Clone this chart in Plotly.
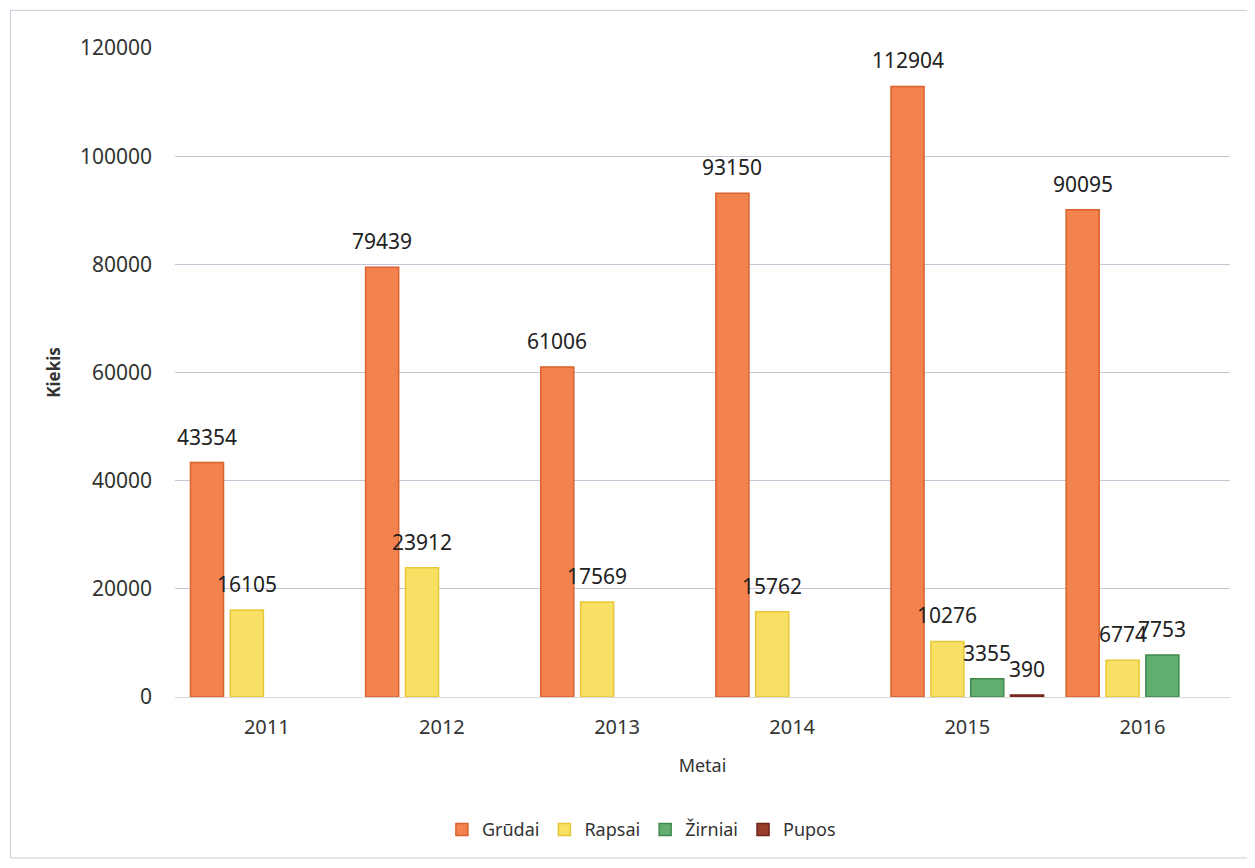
import plotly.graph_objects as go

years = ["2011", "2012", "2013", "2014", "2015", "2016"]
grudai = [43354, 79439, 61006, 93150, 112904, 90095]
rapsai = [16105, 23912, 17569, 15762, 10276, 6774]
zirniai = [None, None, None, None, 3355, 7753]
pupos = [None, None, None, None, 390, None]

series = [
    ("Grūdai", grudai, "#F2834F", "#D9622E"),
    ("Rapsai", rapsai, "#F7E063", "#E8C83A"),
    ("Žirniai", zirniai, "#62AE6E", "#3F8A4C"),
    ("Pupos", pupos, "#9A3D2C", "#6E2418"),
]

BARGAP = 0.09
FONT = "Noto Sans, Liberation Sans, sans-serif"

fig = go.Figure()
annotations = []
n = len(series)
for j, (name, vals, col, line) in enumerate(series):
    fig.add_trace(go.Bar(
        x=years, y=vals, name=name,
        marker=dict(color=col, line=dict(color=line, width=1.5)),
        cliponaxis=False,
    ))
    off = (j - (n - 1) / 2) * (1 - BARGAP) / n
    for i, v in enumerate(vals):
        if v is None:
            continue
        annotations.append(dict(
            x=i + off, y=v, xref="x", yref="y", text=str(v), showarrow=False,
            yanchor="bottom", yshift=10, font=dict(size=21, color="#222", family=FONT),
        ))

fig.update_layout(
    width=1255, height=868,
    barmode="group", bargap=BARGAP, bargroupgap=0.17,
    paper_bgcolor="white", plot_bgcolor="white",
    font=dict(family=FONT, color="#333", size=17),
    margin=dict(l=167, r=33, t=40, b=179, autoexpand=False),
    legend=dict(orientation="h", x=0.253, xanchor="left", y=-0.176, yanchor="top",
                font=dict(size=18), itemwidth=30, traceorder="normal",
                bgcolor="rgba(0,0,0,0)"),
    xaxis=dict(title=dict(text="Metai", font=dict(size=18), standoff=20),
               showgrid=False, showline=True, linecolor="#d8d8d8",
               tickfont=dict(size=20), ticks="", ticklabelstandoff=12),
    yaxis=dict(title=dict(text="<b>Kiekis</b>", font=dict(size=17), standoff=14),
               range=[0, 120000], dtick=20000, showgrid=True, gridcolor="#c8c4d6",
               gridwidth=1, zeroline=False, tickfont=dict(size=21), tickformat="d",
               ticklabelstandoff=22),
    annotations=annotations,
    shapes=[dict(type="rect", xref="paper", yref="paper", x0=-0.156, x1=1.019, y0=-0.248, y1=1.058,
                 line=dict(color="#cfc8d8", width=1))],
)

fig.write_html("out.html")
